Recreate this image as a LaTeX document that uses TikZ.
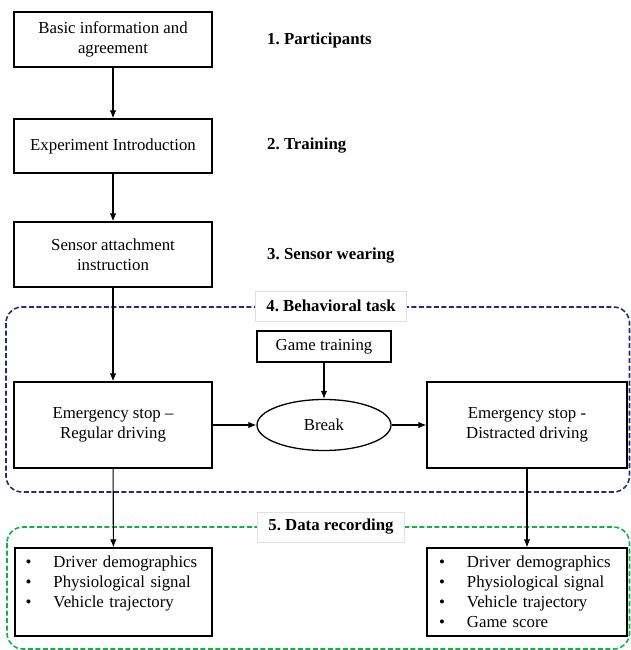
\documentclass[tikz,border=0pt]{standalone}
\usepackage{fontspec}
\setmainfont{Liberation Serif}
\usetikzlibrary{arrows.meta,shapes.geometric,positioning}
\definecolor{taskblue}{RGB}{32,46,110}
\definecolor{recgreen}{RGB}{20,176,70}
\newcommand{\itm}{\makebox[28pt][l]{\textbullet}}
\frenchspacing
\hyphenpenalty=10000
\tikzset{
	box/.style={draw, line width=1.3pt, align=center, inner sep=0pt, font=\fontsize{16.8}{20}\selectfont},
	stage/.style={anchor=west, inner sep=0pt, font=\fontsize{16.8}{20}\selectfont\bfseries},
	tag/.style={draw=black!12, fill=white, line width=0.8pt, inner xsep=11pt, minimum height=30pt, font=\fontsize{16.8}{20}\selectfont\bfseries},
	flow/.style={-{Latex[length=8pt,width=6.5pt]}, line width=1.1pt},
	group/.style={rounded corners=16pt, line width=1.6pt, dash pattern=on 5pt off 2.5pt},
	rec/.style={box, minimum height=88pt, text width=176pt, align=left}
}

\begin{document}
\begin{tikzpicture}[x=1pt,y=-1pt]
	\useasboundingbox (0,0) rectangle (631,650);
	% Dashed groups
	\draw[group, taskblue] (6,307) rectangle (629.5,492);
	\draw[group, recgreen] (7,527) rectangle (629.5,649);
	% Preparation steps
	\node[box, minimum width=198pt, minimum height=55pt] at (113,39.5) (info) {Basic information and\\agreement};
	\node[box, minimum width=198pt, minimum height=54pt] at (113,146) (intro) {Experiment Introduction};
	\node[box, minimum width=198pt, minimum height=65pt] at (113,254.5) (sensor) {Sensor attachment\\instruction};
	% Stage names
	\node[stage] at (267,40) (s1) {1. Participants};
	\node[stage] at (267,146) (s2) {2. Training};
	\node[stage] at (267,256) (s3) {3. Sensor wearing};
	% Behavioral task
	\node[box, minimum width=198pt, minimum height=86pt] at (113,425) (regular) {Emergency stop --\\Regular driving};
	\node[box, minimum width=134pt, minimum height=31pt] at (324,346.5) (game) {Game training};
	\node[box, ellipse, minimum width=134pt, minimum height=51pt] at (324,425) (brk) {Break};
	\node[box, minimum width=200pt, minimum height=86pt] at (527,425) (distract) {Emergency stop -\\Distracted driving};
	% Data recording
	\node[rec, minimum width=197pt] at (113.5,592) (recL) {\itm Driver demographics\\\itm Physiological signal\\\itm Vehicle trajectory\\\mbox{}};
	\node[rec, minimum width=200pt] at (527,592) (recR) {\itm Driver demographics\\\itm Physiological signal\\\itm Vehicle trajectory\\\itm Game score};
	% Group titles
	\node[tag] at (331,306) (s4) {4. Behavioral task};
	\node[tag] at (331,527) (s5) {5. Data recording};
	% Arrows
	\draw[flow] (info) -- (intro);
	\draw[flow] (intro) -- (sensor);
	\draw[flow] (sensor) -- (regular);
	\draw[flow] (game) -- (brk);
	\draw[flow] (regular) -- (brk);
	\draw[flow] (brk) -- (distract);
	\draw[flow] (regular) -- (recL);
	\draw[flow] (distract) -- (recR);
\end{tikzpicture}
\end{document}
